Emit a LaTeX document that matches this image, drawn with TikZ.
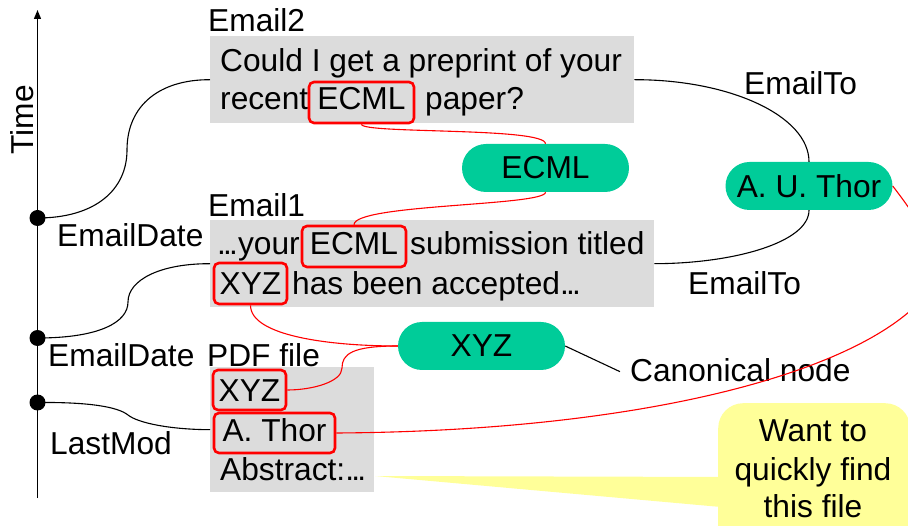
\documentclass[tikz,border=0pt]{standalone}
\usepackage{fontspec}
\setmainfont{Liberation Sans}
\usetikzlibrary{arrows.meta}
\definecolor{boxgray}{HTML}{DCDCDC}
\definecolor{pillgreen}{HTML}{00CC99}
\definecolor{noteyellow}{HTML}{FFFF99}
\newcommand{\ellip}{.\kern-2.8pt.\kern-2.8pt.}
\begin{document}
\begin{tikzpicture}[x=1pt,y=-1pt,
  every node/.style={font=\fontsize{31.7}{38}\selectfont, inner sep=0pt},
  lbl/.style={anchor=base west},
  graybox/.style={fill=boxgray, anchor=north west},
  redbox/.style={draw=red, line width=2.6pt, rounded corners=5pt, anchor=base},
  pill/.style={fill=pillgreen, rounded corners=24pt, minimum width=167pt, minimum height=48pt},
  conn/.style={line width=1.1pt, black},
  rconn/.style={line width=1.1pt, red},
  dot/.style={circle, fill=black, minimum size=16pt}
]
\useasboundingbox (0,0) rectangle (908,526);

% time axis
\coordinate (axb) at (37.5,498);
\coordinate (axt) at (37.5,10);
\draw[line width=1.4pt, -{Triangle[length=9pt,width=7pt]}] (axb) -- (axt);
\node[rotate=90, anchor=base] (time) at (33,120) {Time};
\node[dot] (d1) at (37.5,218) {};
\node[dot] (d2) at (37.5,338) {};
\node[dot] (d3) at (37.5,402.5) {};

% gray boxes
\node[graybox, minimum width=424pt, minimum height=87pt] (e2) at (210,36) {};
\node[graybox, minimum width=444pt, minimum height=87pt] (e1) at (210,220) {};
\node[graybox, minimum width=164pt, minimum height=125pt] (pdf) at (210,367) {};

% Email2
\node[lbl] (e2lab) at (208,32) {Email2};
\node[lbl] (e2l1) at (220,72) {Could I get a preprint of your};
\node[lbl] (e2l2a) at (220,110) {recent};
\node[redbox, text height=28pt, text depth=13pt, minimum width=105pt] (e2ecml) at (361.5,110) {ECML};
\node[lbl] (e2l2b) at (425,110) {paper?};

% Email1
\node[lbl] (e1lab) at (208,217) {Email1};
\node[lbl] (e1l1a) at (217,255) {\ellip your};
\node[redbox, text height=29pt, text depth=12pt, minimum width=104pt] (e1ecml) at (354,255) {ECML};
\node[lbl] (e1l1b) at (410,255) {submission titled};
\node[redbox, text height=32pt, text depth=9pt, minimum width=73pt] (e1xyz) at (250.5,295) {XYZ};
\node[lbl] (e1l2b) at (292,295) {has been accepted\ellip};

% PDF file
\node[lbl] (pdflab) at (207,367) {PDF file};
\node[redbox, text height=32pt, text depth=8pt, minimum width=73pt] (pdfxyz) at (249.5,402) {XYZ};
\node[redbox, text height=29pt, text depth=11pt, minimum width=121pt] (pdfthor) at (274.5,442) {A. Thor};
\node[lbl] (pdfabs) at (220,480) {Abstract:\ellip};

% side labels
\node[lbl] (ed1) at (57,247) {EmailDate};
\node[lbl] (ed2) at (48,367) {EmailDate};
\node[lbl] (lm) at (50,455) {LastMod};
\node[lbl] (et1) at (744,95) {EmailTo};
\node[lbl] (et2) at (688,295) {EmailTo};
\node[lbl] (canon) at (630,382) {Canonical node};

% pills
\node[pill] (pecml) at (545.5,168) {ECML};
\node[pill] (pthor) at (809,186) {A. U. Thor};
\node[pill] (pxyz) at (481.5,346) {XYZ};

% black connectors
\draw[conn] (d1.center) .. controls (95,218) and (127,190) .. (127,150) .. controls (127,105) and (160,79.5) .. (e2.west);
\draw[conn] (d2.center) .. controls (100,338) and (128,322) .. (128,302) .. controls (128,280) and (160,263.5) .. (e1.west);
\draw[conn] (d3.center) .. controls (90,402) and (118,407) .. (128,415) .. controls (138,423) and (170,429.5) .. (pdf.west);
\draw[conn] (e2.east) .. controls (730,79.5) and (pthor.north |- 0,116) .. (pthor.north);
\draw[conn] (pthor.south) .. controls (pthor.south |- 0,242) and (735,263.5) .. (e1.east);
\draw[conn] (pxyz.east) -- ([xshift=-10pt,yshift=-1pt]canon.west);

% red connectors
\draw[rconn] (e2ecml.south) .. controls (361.5,134) and (545.5,127) .. (pecml.north);
\draw[rconn] (pecml.south) .. controls (545.5,206) and (354,204) .. (e1ecml.north);
\draw[rconn] (e1xyz.south) .. controls (250.5,336) and (330,346) .. (pxyz.west);
\draw[rconn] (pxyz.west) .. controls (352,346) and (342,354) .. (342,368) .. controls (342,382) and (312,390) .. (pdfxyz.east);
\draw[rconn] (pdfthor.east) .. controls (650,431) and (870,370) .. (930,290) .. controls (950,263) and (915,215) .. (pthor.east);

% callout
\node[fill=noteyellow, rounded corners=25pt, minimum width=192pt, minimum height=150pt, anchor=north west] (note) at (718,403) {};
\coordinate (tip) at (375,476);
\fill[noteyellow] (tip) -- ([shift={(14,74)}]note.north west) -- ([shift={(14,105)}]note.north west) -- cycle;
\node[anchor=base] (n1) at (813,442) {Want to};
\node[anchor=base] (n2) at (813,480) {quickly find};
\node[anchor=base] (n3) at (813,518) {this file};
\end{tikzpicture}
\end{document}
